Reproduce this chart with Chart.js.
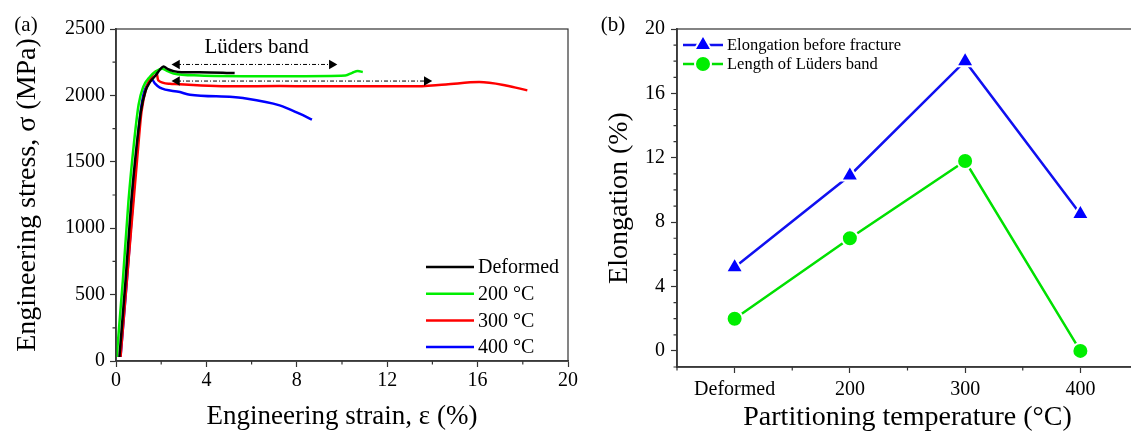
<!DOCTYPE html>
<html>
<head>
<meta charset="utf-8">
<script src="https://cdn.jsdelivr.net/npm/chart.js@4.4.0/dist/chart.umd.min.js"></script>
<style>
  html, body { margin: 0; padding: 0; background: #fff; overflow: hidden; }
  #wrapA { position: absolute; left: 0; top: 0; width: 580px; height: 432px; }
  #wrapB { position: absolute; left: 580px; top: 0; width: 570px; height: 432px; }
</style>
</head>
<body>
<div id="wrapA"><canvas id="stress" width="580" height="432"></canvas></div>
<div id="wrapB"><canvas id="elong" width="570" height="432"></canvas></div>
<script>
// ---- panel (a): engineering stress (MPa) vs engineering strain (%) ----
const seriesNames = ['Deformed', '200 \u00B0C', '300 \u00B0C', '400 \u00B0C'];
const seriesColors = ['#000000', '#00ee00', '#ff0000', '#0000ff'];

const strainDeformed = [0.15, 0.42, 0.68, 0.9, 1.1, 1.3, 1.5, 1.75, 1.95, 2.1, 2.3, 2.55, 2.9, 3.7, 5.25];
const stressDeformed = [30, 600, 1210, 1600, 1880, 2030, 2100, 2150, 2195, 2218, 2198, 2183, 2175, 2175, 2168];

const strain200 = [0.03, 0.3, 0.55, 0.8, 1.0, 1.2, 1.5, 1.8, 2.05, 2.25, 2.55, 3.7, 6, 8, 10.15, 10.45, 10.7, 10.92];
const stress200 = [30, 600, 1200, 1650, 1930, 2062, 2140, 2185, 2200, 2185, 2165, 2150, 2145, 2145, 2150, 2170, 2183, 2176];

const strain300 = [0.2, 0.5, 0.78, 0.95, 1.13, 1.35, 1.6, 1.78, 1.87, 2.38, 5.17, 7.24, 8.7, 13.1, 14.6, 16.07, 17.25, 18.2];
const stress300 = [30, 650, 1210, 1550, 1880, 2062, 2150, 2181, 2113, 2088, 2068, 2070, 2068, 2068, 2083, 2100, 2075, 2038];

const strain400 = [0.2, 0.48, 0.75, 0.92, 1.07, 1.22, 1.4, 1.6, 1.72, 1.94, 2.83, 3.27, 5.17, 5.62, 7.24, 8.12, 8.67];
const stress400 = [30, 600, 1210, 1580, 1850, 2010, 2085, 2118, 2090, 2058, 2025, 2005, 1988, 1980, 1925, 1862, 1817];

// Lüders band arrows (strain from / to, stress level)
const arrowFrom = [2.7, 2.7];
const arrowTo = [9.55, 13.75];
const arrowStress = [2233, 2108];

const stressTicks = [0, 500, 1000, 1500, 2000, 2500];
const strainTicks = [0, 4, 8, 12, 16, 20];

// ---- panel (b): elongation vs partitioning temperature ----
const temperatures = ['Deformed', '200', '300', '400'];
const elongationFracture = [5.2, 10.9, 18.0, 8.5];
const ludersLength = [2.0, 7.0, 11.8, 0.0];
const elongTicks = [0, 4, 8, 12, 16, 20];
const legendB = ['Elongation before fracture', 'Length of L\u00FCders band'];

const serif = '"Liberation Serif", "Times New Roman", serif';
Chart.defaults.font.family = serif;
Chart.defaults.color = '#000';

const pts = (xs, ys) => xs.map((x, i) => ({x: x, y: ys[i]}));

// {{{ frame + minor ticks
const frame = {
  id: 'frame',
  afterDraw(chart, args, opts) {
    const ctx = chart.ctx;
    const a = chart.chartArea;
    ctx.save();
    ctx.strokeStyle = '#333';
    ctx.lineWidth = 1.2;
    ctx.beginPath();
    (opts.x || []).forEach((v) => {
      const px = chart.scales.x.getPixelForValue(v);
      ctx.moveTo(px, a.bottom);
      ctx.lineTo(px, a.bottom + 3.5);
    });
    (opts.y || []).forEach((v) => {
      const py = chart.scales.y.getPixelForValue(v);
      ctx.moveTo(a.left, py);
      ctx.lineTo(a.left - 3.5, py);
    });
    ctx.stroke();
    ctx.strokeRect(a.left, a.top, a.right - a.left, a.bottom - a.top);
    if (opts.label) {
      ctx.font = '21px ' + serif;
      ctx.fillStyle = '#000';
      ctx.textAlign = 'center';
      ctx.textBaseline = 'middle';
      ctx.fillText(opts.label, opts.labelX, 25);
    }
    ctx.restore();
  }
};
// }}}

// {{{ legend for (a) + Lüders text
const legendA = {
  id: 'legendA',
  afterDraw(chart) {
    const {ctx, chartArea: a, scales} = chart;
    ctx.save();
    ctx.font = '20px ' + serif;
    ctx.textBaseline = 'middle';
    ctx.textAlign = 'left';
    seriesNames.forEach((name, i) => {
      const y = a.bottom - 94 + i * 26.7;
      ctx.strokeStyle = seriesColors[i];
      ctx.lineWidth = 2.5;
      ctx.beginPath();
      ctx.moveTo(a.right - 142, y);
      ctx.lineTo(a.right - 94, y);
      ctx.stroke();
      ctx.fillStyle = '#000';
      ctx.fillText(name, a.right - 90, y + 1);
    });
    ctx.font = '21px ' + serif;
    ctx.textAlign = 'center';
    ctx.fillText('L\u00FCders band', scales.x.getPixelForValue(6.22), scales.y.getPixelForValue(2363));
    ctx.restore();
  }
};
// }}}

// {{{ legend for (b)
const legendBPlugin = {
  id: 'legendB',
  afterDraw(chart) {
    const {ctx, chartArea: a} = chart;
    const ds = chart.data.datasets;
    ctx.save();
    ctx.font = '16.5px ' + serif;
    ctx.textBaseline = 'middle';
    ctx.textAlign = 'left';
    legendB.forEach((name, i) => {
      const y = a.top + 16 + i * 19;
      const d = ds[i];
      ctx.strokeStyle = d.borderColor;
      ctx.lineWidth = d.borderWidth;
      ctx.beginPath();
      ctx.moveTo(a.left + 6, y);
      ctx.lineTo(a.left + 46, y);
      ctx.stroke();
      ctx.fillStyle = d.pointBackgroundColor;
      ctx.strokeStyle = '#fff';
      ctx.lineWidth = 2;
      Chart.helpers.drawPoint(ctx, {pointStyle: d.pointStyle, radius: d.pointRadius, borderWidth: 2, rotation: 0}, a.left + 26, y);
      ctx.fillStyle = '#000';
      ctx.fillText(name, a.left + 50, y + 1);
    });
    ctx.restore();
  }
};
// }}}

const axisFont = {family: serif, size: 20};
const titleFont = {family: serif, size: 27, lineHeight: 1};
const plain = (v) => String(v);

const curve = (i, xs, ys) => ({
  data: pts(xs, ys),
  showLine: true,
  borderColor: seriesColors[i],
  backgroundColor: seriesColors[i],
  borderWidth: 2.5,
  pointRadius: 0,
  cubicInterpolationMode: 'monotone'
});

const arrow = (i) => ({
  data: [{x: arrowFrom[i], y: arrowStress[i]}, {x: arrowTo[i], y: arrowStress[i]}],
  showLine: true,
  borderColor: '#000',
  borderWidth: 1,
  borderDash: [4, 2, 1, 2],
  pointStyle: 'triangle',
  pointRotation: [270, 90],
  pointRadius: 5.5,
  pointBorderWidth: 0,
  pointBackgroundColor: '#000'
});

new Chart(document.getElementById('stress'), {
  type: 'scatter',
  data: {
    datasets: [
      arrow(0), arrow(1),
      curve(0, strainDeformed, stressDeformed),
      curve(1, strain200, stress200),
      curve(2, strain300, stress300),
      curve(3, strain400, stress400)
    ]
  },
  options: {
    responsive: false,
    devicePixelRatio: 1,
    animation: false,
    events: [],
    layout: {padding: {top: 29, right: 11, left: 0, bottom: 0}},
    plugins: {
      legend: {display: false},
      tooltip: {enabled: false},
      frame: {
        x: [2, 6, 10, 14, 18],
        y: [250, 750, 1250, 1750, 2250],
        label: '(a)', labelX: 26
      }
    },
    scales: {
      x: {
        type: 'linear', min: 0, max: 20,
        afterBuildTicks: (s) => { s.ticks = strainTicks.map((v) => ({value: v})); },
        afterFit: (s) => { s.height = 71; },
        ticks: {font: axisFont, color: '#000', padding: 2, maxRotation: 0, callback: plain},
        grid: {drawOnChartArea: false, drawTicks: true, tickLength: 6, tickWidth: 1.2, tickColor: '#333', color: '#333'},
        border: {display: true, color: '#444', width: 1.8},
        title: {display: true, text: 'Engineering strain, \u03B5 (%)', font: titleFont, color: '#000', padding: {top: 0, bottom: 1.5}}
      },
      y: {
        type: 'linear', min: 0, max: 2500,
        afterBuildTicks: (s) => { s.ticks = stressTicks.map((v) => ({value: v})); },
        afterFit: (s) => { s.width = 116; },
        ticks: {font: axisFont, color: '#000', padding: 5, callback: plain},
        grid: {drawOnChartArea: false, drawTicks: true, tickLength: 6, tickWidth: 1.2, tickColor: '#333', color: '#333'},
        border: {display: true, color: '#444', width: 1.8},
        title: {display: true, text: 'Engineering stress, \u03C3 (MPa)', font: {family: serif, size: 28, lineHeight: 1}, color: '#000', padding: {top: 13.5, bottom: 0}}
      }
    }
  },
  plugins: [frame, legendA]
});

const seq = temperatures.map((t, i) => i + 1);

new Chart(document.getElementById('elong'), {
  type: 'scatter',
  data: {
    datasets: [
      {
        data: pts(seq, elongationFracture),
        showLine: true,
        borderColor: '#1010f0',
        borderWidth: 2.5,
        pointStyle: 'triangle',
        pointRadius: 10,
        pointBackgroundColor: '#0000ff',
        pointBorderColor: '#fff',
        pointBorderWidth: 2
      },
      {
        data: pts(seq, ludersLength),
        showLine: true,
        borderColor: '#00e000',
        borderWidth: 2.5,
        pointStyle: 'circle',
        pointRadius: 8,
        pointBackgroundColor: '#00ee00',
        pointBorderColor: '#fff',
        pointBorderWidth: 2
      }
    ]
  },
  options: {
    responsive: false,
    devicePixelRatio: 1,
    animation: false,
    events: [],
    clip: false,
    layout: {padding: {top: 29, right: 12, left: 0, bottom: 0}},
    plugins: {
      legend: {display: false},
      tooltip: {enabled: false},
      frame: {
        x: [0.5, 1.5, 2.5, 3.5, 4.5],
        y: [-1, 1, 2, 3, 5, 6, 7, 9, 10, 11, 13, 14, 15, 17, 18, 19],
        label: '(b)', labelX: 33
      }
    },
    scales: {
      x: {
        type: 'linear', min: 0.5, max: 4.5,
        afterBuildTicks: (s) => { s.ticks = seq.map((v) => ({value: v})); },
        afterFit: (s) => { s.height = 65; },
        ticks: {font: axisFont, color: '#000', padding: 5, maxRotation: 0, callback: (v) => temperatures[v - 1]},
        grid: {drawOnChartArea: false, drawTicks: true, tickLength: 6, tickWidth: 1.2, tickColor: '#333', color: '#333'},
        border: {display: true, color: '#444', width: 1.8},
        title: {display: true, text: 'Partitioning temperature (\u00B0C)', font: {family: serif, size: 28, lineHeight: 1}, color: '#000', padding: {top: 0, bottom: 0}}
      },
      y: {
        type: 'linear', min: -1, max: 20,
        afterBuildTicks: (s) => { s.ticks = elongTicks.map((v) => ({value: v})); },
        afterFit: (s) => { s.width = 97; },
        ticks: {font: axisFont, color: '#000', padding: 6, callback: plain},
        grid: {drawOnChartArea: false, drawTicks: true, tickLength: 6, tickWidth: 1.2, tickColor: '#333', color: '#333'},
        border: {display: true, color: '#444', width: 1.8},
        title: {display: true, text: 'Elongation (%)', font: {family: serif, size: 28, lineHeight: 1}, color: '#000', padding: {top: 26, bottom: 0}}
      }
    }
  },
  plugins: [frame, legendBPlugin]
});
</script>
</body>
</html>
